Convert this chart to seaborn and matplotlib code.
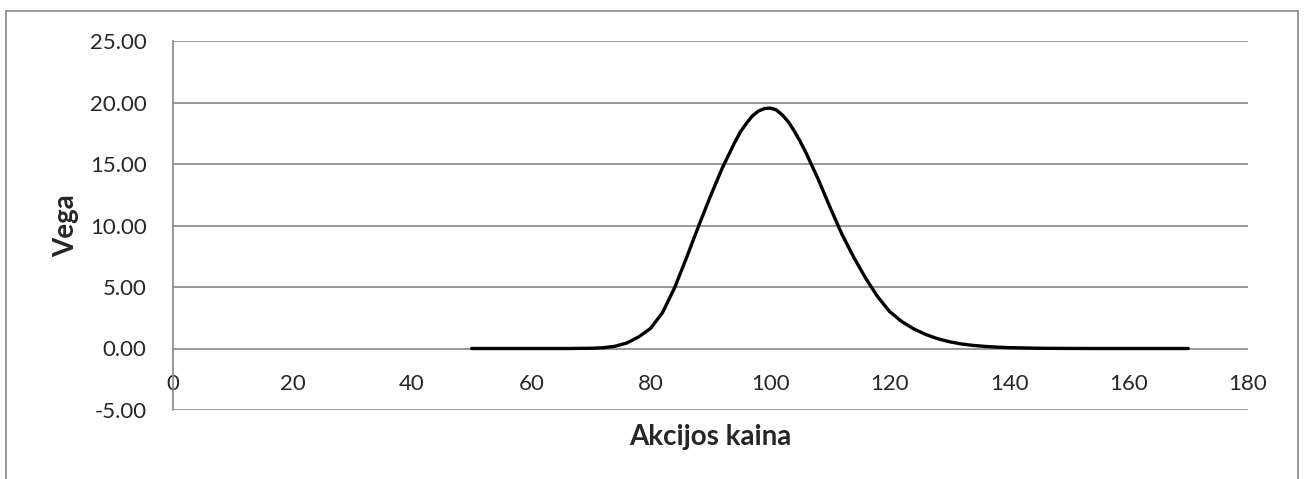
import matplotlib
matplotlib.use("Agg")
import matplotlib.pyplot as plt
import seaborn as sns
import pandas as pd
from matplotlib.patches import Rectangle

# Data
price = [50, 52, 54, 56, 58, 60, 62, 64, 66, 68,
         70, 72, 74, 76, 78, 80, 82, 84, 86, 88,
         90, 92, 94, 95, 96, 97, 98, 99, 100, 101,
         102, 103, 104, 105, 106, 108,
         110, 112, 114, 116, 118, 120, 122, 124, 126, 128,
         130, 132, 134, 136, 138, 140, 145, 150, 155, 160,
         165, 170]
vega = [0.0, 0.0, 0.0, 0.0, 0.0, 0.0, 0.0, 0.0, 0.0, 0.01,
        0.02, 0.06, 0.18, 0.45, 0.95, 1.65, 2.95, 4.95, 7.4, 9.95,
        12.4, 14.7, 16.7, 17.6, 18.3, 18.9, 19.3, 19.5, 19.55, 19.4,
        19.0, 18.45, 17.7, 16.85, 15.9, 13.8,
        11.5, 9.3, 7.4, 5.7, 4.2, 3.0, 2.2, 1.6, 1.15, 0.8,
        0.55, 0.37, 0.25, 0.17, 0.11, 0.07, 0.02, 0.005, 0.0, 0.0,
        0.0, 0.0]
x_ticks = [0, 20, 40, 60, 80, 100, 120, 140, 160, 180]
y_ticks = [-5, 0, 5, 10, 15, 20, 25]
x_label = "Akcijos kaina"
y_label = "Vega"

df = pd.DataFrame({"price": price, "vega": vega})

sns.set_style("white")
plt.rcParams["font.family"] = ["Lato", "DejaVu Sans"]

fig = plt.figure(figsize=(13.04, 4.79), dpi=100)
ax = fig.add_axes([173 / 1304, 1 - 410 / 479, (1248 - 173) / 1304, (410 - 41) / 479])

grid_c = "#878787"
for yv in y_ticks:
    ax.axhline(yv, color=grid_c, lw=1.2, zorder=1)

sns.lineplot(data=df, x="price", y="vega", ax=ax, color="black", lw=2.4, zorder=3)
for ln in ax.lines:
    ln.set_solid_joinstyle("round")

ax.set_xlim(0, 180)
ax.set_ylim(-5, 25)
ax.set_xticks(x_ticks)
ax.set_yticks(y_ticks)
ax.set_xticklabels([str(t) for t in x_ticks])
ax.set_yticklabels([f"{t:.2f}" for t in y_ticks])

for s in ["top", "right", "bottom"]:
    ax.spines[s].set_visible(False)
ax.spines["left"].set_color(grid_c)
ax.spines["left"].set_linewidth(1.2)

ax.tick_params(axis="x", length=0, pad=18, labelsize=16)
ax.tick_params(axis="y", length=0, pad=19, labelsize=16)
for lbl in ax.get_xticklabels():
    lbl.set_y(5 / 30)  # axes fraction position of y=0

ax.set_xlabel(x_label, fontsize=20, fontweight="bold", labelpad=10)
ax.set_ylabel(y_label, fontsize=20, fontweight="bold", labelpad=8)

fig.add_artist(Rectangle((6 / 1304, -0.05), (1298 - 6) / 1304, 1 - 11 / 479 + 0.05,
                         transform=fig.transFigure, fill=False,
                         edgecolor=grid_c, lw=1.2))

fig.savefig("out.png", dpi=100, facecolor="white")
